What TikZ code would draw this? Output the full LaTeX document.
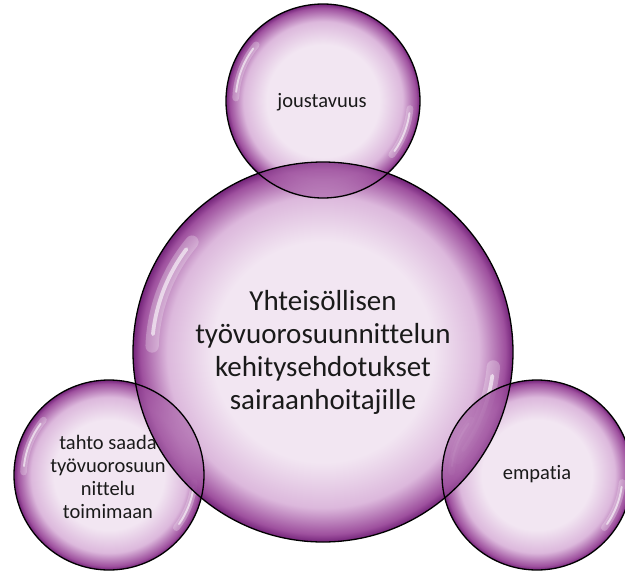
\documentclass[tikz,border=0pt]{standalone}
\usepackage{fontspec}
\setmainfont[RawFeature={-liga}]{Carlito}
\definecolor{bin}{HTML}{F2E6F2}
\definecolor{bmid}{HTML}{DCB8DC}
\definecolor{bout}{HTML}{9E509E}
\definecolor{bdark}{HTML}{74247A}
\definecolor{txt}{HTML}{1A1A1A}
\pgfdeclareradialshading{bubble}{\pgfpoint{0bp}{0bp}}{color(0bp)=(bin); color(14.5bp)=(bin); color(20.5bp)=(bmid); color(24bp)=(bout); color(25bp)=(bdark); color(50bp)=(bdark)}
\tikzset{
  bub/.style={circle, inner sep=0pt, shading=bubble, draw=none},
  rim/.style={draw=black, line width=1.3pt},
  lbl/.style={align=center, text=txt, inner sep=0pt},
  glow/.style={white, line cap=round, opacity=0.25},
  shine/.style={white, line cap=round, opacity=0.6},
  lens/.style={fill=bout, fill opacity=0.4}
}
\newcommand{\hilite}[2]{% #1 node, #2 radius
  \draw[glow, line width=0.07*#2] (#1.center) ++(-140:0.9*#2) arc[start angle=-140, end angle=-178, radius=0.9*#2];
  \draw[shine, line width=0.02*#2] (#1.center) ++(-143:0.9*#2) arc[start angle=-143, end angle=-174, radius=0.9*#2];
  \draw[glow, line width=0.07*#2] (#1.center) ++(5:0.9*#2) arc[start angle=5, end angle=38, radius=0.9*#2];
  \draw[shine, line width=0.02*#2] (#1.center) ++(8:0.9*#2) arc[start angle=8, end angle=35, radius=0.9*#2];
}
\begin{document}
\begin{tikzpicture}[x=1pt,y=-1pt]
\useasboundingbox (0,0) rectangle (625,571);
\clip (0,0) rectangle (625,571);
% circles
\node[bub, minimum size=380pt] (C) at (323,352) {};
\node[bub, minimum size=194pt] (T) at (323,101) {};
\node[bub, minimum size=190pt] (L) at (109,475) {};
\node[bub, minimum size=190pt] (R) at (537,475) {};
% highlights
\hilite{C}{190}
\hilite{T}{97}
\hilite{L}{95}
\hilite{R}{95}
% overlaps
\begin{scope}
  \clip (T.center) circle[radius=97];
  \shade[shading=bubble, fill opacity=0.8] (C.center) circle[radius=190];
  \path[lens] (C.center) circle[radius=190];
\end{scope}
\begin{scope}
  \clip (L.center) circle[radius=95];
  \shade[shading=bubble, fill opacity=0.8] (C.center) circle[radius=190];
  \path[lens] (C.center) circle[radius=190];
\end{scope}
\begin{scope}
  \clip (R.center) circle[radius=95];
  \shade[shading=bubble, fill opacity=0.8] (C.center) circle[radius=190];
  \path[lens] (C.center) circle[radius=190];
\end{scope}
% outlines
\draw[rim] (C.center) circle[radius=190];
\draw[rim] (T.center) circle[radius=97];
\draw[rim] (L.center) circle[radius=95];
\draw[rim] (R.center) circle[radius=95];
% texts
\node[lbl, font=\fontsize{29}{33}\selectfont] (tc) at (323,352) {Yhteisöllisen\\työvuorosuunnittelun\\kehitysehdotukset\\sairaanhoitajille};
\node[lbl, font=\fontsize{20.5}{22.7}\selectfont] (tt) at (322,102) {joustavuus};
\node[lbl, font=\fontsize{20.5}{22.7}\selectfont] (tl) at (108,477) {tahto saada\\työvuorosuun\\nittelu\\toimimaan};
\node[lbl, font=\fontsize{20.5}{22.7}\selectfont] (tr) at (537,474) {empatia};
\end{tikzpicture}
\end{document}
